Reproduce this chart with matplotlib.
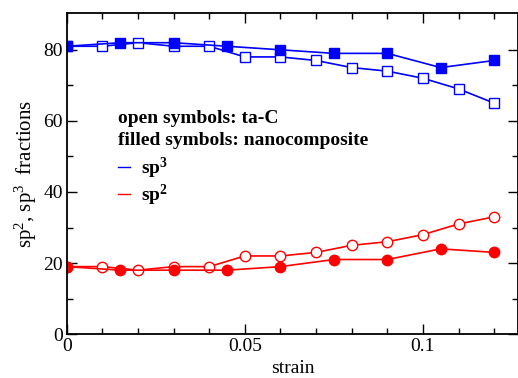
import numpy as np
import matplotlib
matplotlib.use("Agg")
import matplotlib.pyplot as plt
from matplotlib.lines import Line2D

plt.rcParams['font.family'] = ['Liberation Serif', 'DejaVu Serif']
plt.rcParams['mathtext.fontset'] = 'custom'
plt.rcParams['mathtext.rm'] = 'Liberation Serif'
plt.rcParams['mathtext.it'] = 'Liberation Serif:italic'
plt.rcParams['mathtext.bf'] = 'Liberation Serif:bold'

# ta-C (open symbols)
strain_tac = [0, 0.01, 0.02, 0.03, 0.04, 0.05, 0.06, 0.07, 0.08, 0.09, 0.10, 0.11, 0.12]
sp3_tac = [81, 81, 82, 81, 81, 78, 78, 77, 75, 74, 72, 69, 65]
sp2_tac = [19, 19, 18, 19, 19, 22, 22, 23, 25, 26, 28, 31, 33]

# nanocomposite (filled symbols)
strain_nc = [0, 0.015, 0.03, 0.045, 0.06, 0.075, 0.09, 0.105, 0.12]
sp3_nc = [81, 82, 82, 81, 80, 79, 79, 75, 77]
sp2_nc = [19, 18, 18, 18, 19, 21, 21, 24, 23]

blue = '#0000ff'
red = '#ff0000'

fig = plt.figure(figsize=(5.18, 3.78), dpi=100)
ax = fig.add_axes([0.129, 0.116, 0.871, 0.850])

ax.plot(strain_tac, sp3_tac, color=blue, lw=1.2, marker='s', ms=6.5,
        mfc='white', mec=blue, mew=1.0)
ax.plot(strain_nc, sp3_nc, color=blue, lw=1.2, marker='s', ms=6.5,
        mfc=blue, mec=blue)
ax.plot(strain_tac, sp2_tac, color=red, lw=1.2, marker='o', ms=7.5,
        mfc='white', mec=red, mew=1.0)
ax.plot(strain_nc, sp2_nc, color=red, lw=1.2, marker='o', ms=7.5,
        mfc=red, mec=red)

ax.set_xlim(0, 0.1267)
ax.set_ylim(0, 90.4)
ax.set_xticks([0, 0.05, 0.1])
ax.set_xticklabels(['0', '0.05', '0.1'])
ax.set_xticks(np.arange(0, 0.125, 0.01), minor=True)
ax.set_yticks([0, 20, 40, 60, 80])
ax.set_yticks(np.arange(0, 90, 10), minor=True)
ax.tick_params(which='both', direction='in', top=True, right=True,
               labelsize=14, width=1.0)
ax.tick_params(which='major', length=7.5, pad=3)
ax.tick_params(which='minor', length=4)
for s in ax.spines.values():
    s.set_linewidth(1.3)

ax.set_xlabel('strain', fontsize=14, labelpad=3.5)
ax.set_ylabel(r'sp$^2$, sp$^3$  fractions', fontsize=15, labelpad=3)

ax.text(0.0143, 59.4, 'open symbols: ta-C', fontsize=14, fontweight='bold',
        va='baseline')
ax.text(0.0143, 53.2, 'filled symbols: nanocomposite', fontsize=14,
        fontweight='bold', va='baseline')

handles = [Line2D([], [], color=blue, lw=1.0), Line2D([], [], color=red, lw=1.0)]
ax.legend(handles, [r'$\mathbf{sp^3}$', r'$\mathbf{sp^2}$'], loc='upper left',
          bbox_to_anchor=(0.113, 0.555), frameon=False, fontsize=14,
          handlelength=0.62, handletextpad=0.57, labelspacing=0.1,
          borderaxespad=0, borderpad=0)

fig.savefig('out.png', dpi=100)
